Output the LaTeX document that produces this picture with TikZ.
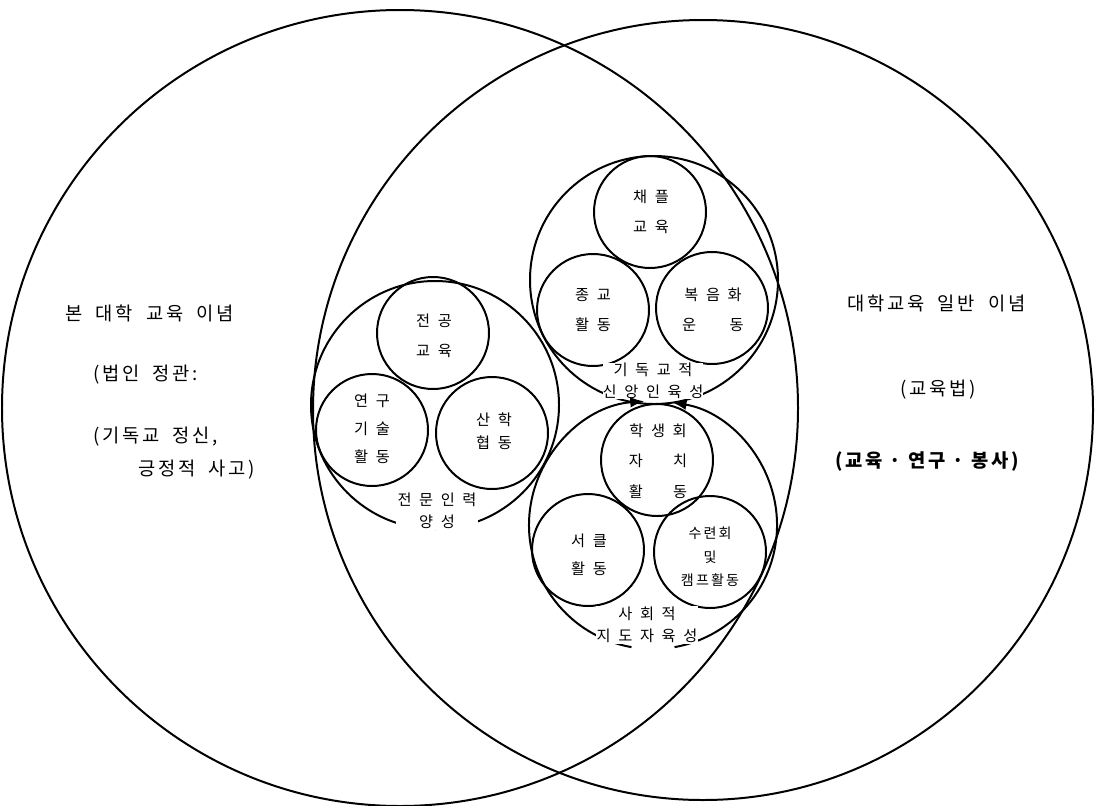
\documentclass[tikz,border=0pt]{standalone}
\usepackage{fontspec}
\newfontfamily\kr[LetterSpace=50]{Noto Sans CJK KR}
\newfontfamily\krtight[LetterSpace=15]{Noto Sans CJK KR}
\usetikzlibrary{arrows.meta}

\begin{document}
\begin{tikzpicture}[x=0.03cm,y=-0.03cm,
	ring/.style={line width=1.7pt},
	bigtext/.style={font=\krtight\fontsize{16}{18}\selectfont,anchor=west,inner sep=0pt},
	intext/.style={font=\kr\fontsize{13}{26}\selectfont,align=center,inner sep=0pt},
	grouptag/.style={font=\kr\fontsize{13}{19}\selectfont,align=center,fill=white,inner sep=1pt}]
	\useasboundingbox (0,0) rectangle (1098,805);
	\newcommand\smallr{56};
	\newcommand\groupr{124};
	\newcommand\gap{\hspace{0.7em}};
	% the two ideals
	\draw[ring] (400,408) circle[radius=398];
	\draw[ring] (703,410) circle[radius=390];
	\node[bigtext] (ownhead) at (65,313) {본\gap 대학\gap 교육\gap 이념};
	\node[bigtext] (ownsrc) at (93,375) {(법인\gap 정관:};
	\node[bigtext] (ownfaith) at (93,437) {(기독교\gap 정신,};
	\node[bigtext] (ownmind) at (138,470) {긍정적\gap 사고)};
	\node[bigtext] (genhead) at (847,303) {대학교육\gap 일반\gap 이념};
	\node[bigtext] (gensrc) at (900,390) {(교육법)};
	\node[bigtext,font=\krtight\bfseries\fontsize{16}{18}\selectfont] (gentask) at (835,462) {(교육 · 연구 · 봉사)};
	% groups
	\coordinate (pro) at (435,405);
	\coordinate (faith) at (654,280);
	\coordinate (lead) at (653,525);
	\draw[ring] (pro) circle[radius=\groupr];
	\draw[ring] (faith) circle[radius=\groupr];
	\foreach \cx/\cy in {433/333, 372/430, 492/433, 650/212, 593/310, 712/308, 657/460, 588/550, 710/552} {
		\draw[ring] (\cx,\cy) circle[radius=\smallr];
	}
	% professional group
	\node[intext] (major) at (434,336) {전공\\교육};
	\node[intext,font=\kr\fontsize{13}{24}\selectfont] (research) at (372,429) {연구\\기술\\활동};
	\node[intext,font=\kr\fontsize{13}{20}\selectfont] (industry) at (494,431) {산학\\협동};
	\node[grouptag] (protag) at (437,511) {전문인력\\양성};
	% faith group
	\node[intext] (chapel) at (651,212) {채플\\교육};
	\node[intext] (religion) at (593,310) {종교\\활동};
	\node[intext] (gospel) at (713,310) {복음화\\운\hspace{2.2em}동};
	\node[grouptag,inner sep=0pt] (faithtag) at (653,381) {기독교적\\신앙인육성};
	% leadership group
	\draw[ring,-{Latex[length=12pt,width=9pt]}] ([shift={(100:\groupr)}]lead) arc[start angle=100,end angle=266,radius=\groupr];
	\draw[ring,-{Latex[length=12pt,width=9pt]}] ([shift={(80:\groupr)}]lead) arc[start angle=80,end angle=-81,radius=\groupr];
	\node[intext,font=\kr\fontsize{13}{26}\selectfont] (council) at (658,461) {학생회\\자\hspace{2em}치\\활\hspace{2em}동};
	\node[intext,font=\kr\fontsize{13}{24}\selectfont] (circle) at (589,555) {서클\\활동};
	\node[intext,font=\krtight\fontsize{12}{20}\selectfont] (camp) at (710,557) {수련회\\및\\캠프활동};
	\node[grouptag] (leadtag) at (647,625) {사회적\\지도자육성};
\end{tikzpicture}
\end{document}
